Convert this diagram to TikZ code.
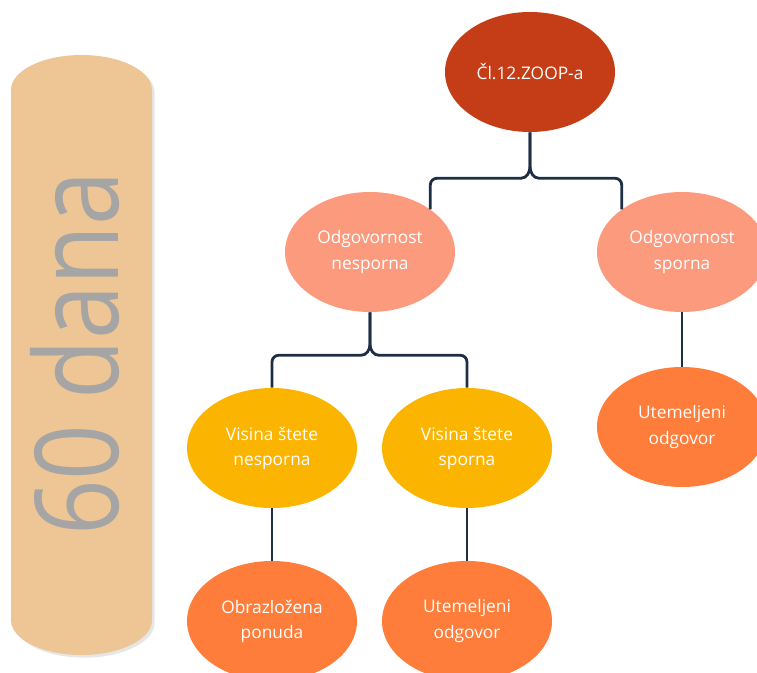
\documentclass[tikz,border=0pt]{standalone}
\usepackage{fontspec}
\setmainfont{Open Sans}
\usepackage{graphicx}
\usetikzlibrary{shapes.geometric, shadows}
\definecolor{crvena}{HTML}{C43D16}
\definecolor{losos}{HTML}{FC9A7E}
\definecolor{zuta}{HTML}{FBB400}
\definecolor{narancasta}{HTML}{FF7D3B}
\definecolor{pijesak}{HTML}{EEC595}
\definecolor{siva}{HTML}{A5A5A5}
\definecolor{linija}{HTML}{1E2F45}

\begin{document}
\begin{tikzpicture}[x=0.75pt, y=-0.75pt,
    elipsa/.style={ellipse, minimum width=127.5pt, minimum height=90pt, inner sep=0pt,
        text=white, align=center, font=\fontsize{13}{18.8}\selectfont},
    veza/.style={draw=linija, line width=2.1pt}]
                \useasboundingbox (0,0) rectangle (757,673);
                % traka s rokom
                \fill[pijesak, drop shadow={opacity=0.2, shadow xshift=2pt, shadow yshift=-2pt}]
                    (11,90) .. controls (11,70.7) and (42.6,55) .. (81.5,55)
                    .. controls (120.4,55) and (152,70.7) .. (152,90) -- (152,620)
                    .. controls (152,639.3) and (120.4,655) .. (81.5,655)
                    .. controls (42.6,655) and (11,639.3) .. (11,620) -- cycle;
                \node[rotate=90, anchor=base, inner sep=0pt, text=siva,
                    font=\fontsize{87}{87}\selectfont] (rok) at (118,353.5) {\scalebox{0.84}[1]{60 dana}};
                % cvorovi
                \node[elipsa, fill=crvena] (clan) at (530,72) {Čl.12.ZOOP-a};
                \node[elipsa, fill=losos] (nesp) at (370,252) {Odgovornost\\nesporna};
                \node[elipsa, fill=losos] (spor) at (682,252) {Odgovornost\\sporna};
                \node[elipsa, fill=zuta] (vn) at (272,448) {Visina štete\\nesporna};
                \node[elipsa, fill=zuta] (vs) at (467,448) {Visina štete\\sporna};
                \node[elipsa, fill=narancasta] (ut1) at (682,427) {Utemeljeni\\odgovor};
                \node[elipsa, fill=narancasta] (ob) at (272,621) {Obrazložena\\ponuda};
                \node[elipsa, fill=narancasta] (ut2) at (467,621) {Utemeljeni\\odgovor};
                % veze
                \draw[veza] (clan.south) -- ++(0,34) to[out=-90, in=0] ++(-9,12) [rounded corners=5pt] -| (nesp.north east);
                \draw[veza] (clan.south) -- ++(0,34) to[out=-90, in=180] ++(9,12) [rounded corners=5pt] -| (spor.north west);
                \draw[veza] (nesp.south) -- ++(0,32) to[out=-90, in=0] ++(-9,11) [rounded corners=5pt] -| (vn.north);
                \draw[veza] (nesp.south) -- ++(0,32) to[out=-90, in=180] ++(9,11) [rounded corners=5pt] -| (vs.north);
                \draw[veza] (spor) -- (ut1);
                \draw[veza] (vn) -- (ob);
                \draw[veza] (vs) -- (ut2);
            \end{tikzpicture}
\end{document}
